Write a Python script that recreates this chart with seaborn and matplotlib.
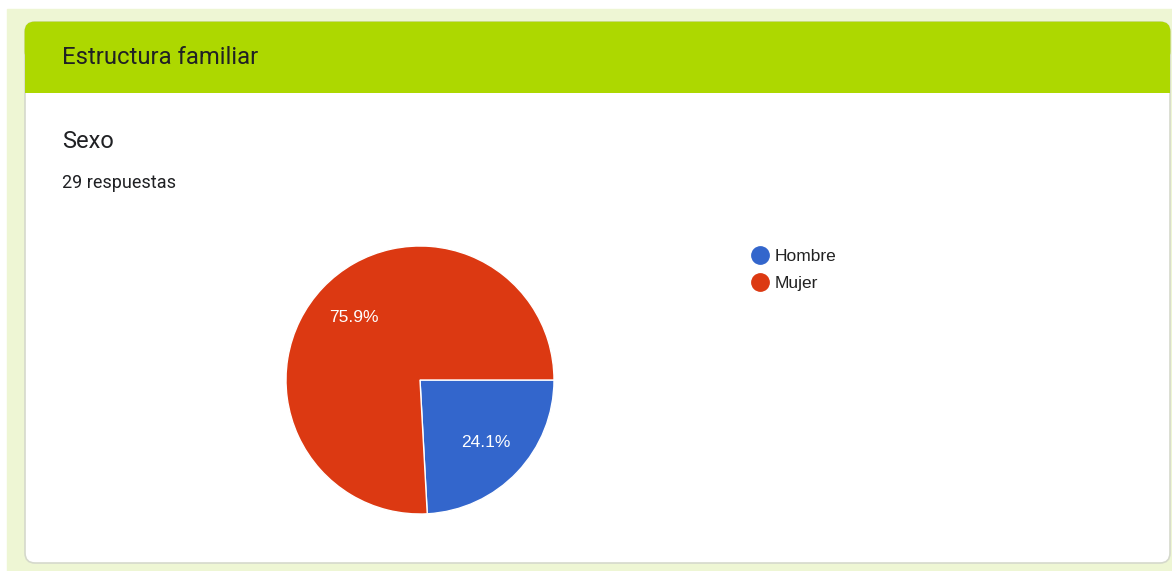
import matplotlib
matplotlib.use("Agg")
import matplotlib.pyplot as plt
from matplotlib.patches import FancyBboxPatch, Rectangle
from matplotlib.lines import Line2D
import seaborn as sns

# datos
categorias = ["Hombre", "Mujer"]
respuestas = [7, 22]
colores = ["#3366cc", "#dc3912"]
titulo_seccion = "Estructura familiar"
pregunta = "Sexo"
total_txt = "29 respuestas"

sns.set_theme(style="white")
plt.rcParams["font.family"] = ["Roboto", "DejaVu Sans"]
arial = ["Liberation Sans", "DejaVu Sans"]

W, H = 1172, 571
fig = plt.figure(figsize=(W / 100, H / 100), dpi=100)
fig.patch.set_facecolor("white")

# fondo en coordenadas de pixel
bg = fig.add_axes([0, 0, 1, 1])
bg.set_xlim(0, W)
bg.set_ylim(H, 0)
bg.axis("off")

bg.add_patch(Rectangle((7, 9), W - 7, H - 9, color="#eef6d4", zorder=0))
# tarjeta
bg.add_patch(FancyBboxPatch((25, 22), 1145, 541, boxstyle="round,pad=0,rounding_size=10",
                            facecolor="white", edgecolor="#d5d9cc", linewidth=1.2, zorder=1))
# cabecera verde (esquinas de arriba redondeadas)
verde = "#add800"
bg.add_patch(FancyBboxPatch((24.6, 21.6), 1145.8, 40, boxstyle="round,pad=0,rounding_size=10",
                            facecolor=verde, edgecolor="none", zorder=2))
bg.add_patch(Rectangle((24.6, 40), 1145.8, 53, facecolor=verde, edgecolor="none", zorder=2))

bg.text(62, 58, titulo_seccion, fontsize=17.2, color="#202124", va="center", ha="left", zorder=4)
bg.text(62, 141, pregunta, fontsize=17, color="#202124", va="center", ha="left", zorder=4)
bg.text(62, 183, total_txt, fontsize=13, color="#202124", va="center", ha="left", zorder=4)

# pastel
cx, cy, r = 420, 380, 134
ax = fig.add_axes([(cx - r) / W, (H - cy - r) / H, 2 * r / W, 2 * r / H])
wedges, _, autotexts = ax.pie(respuestas, colors=colores, startangle=0, counterclock=False,
                              autopct="%.1f%%", pctdistance=0.68,
                              wedgeprops=dict(edgecolor="white", linewidth=1),
                              textprops=dict(color="white", fontsize=12.5, family=arial))
ax.set_xlim(-1, 1)
ax.set_ylim(-1, 1)
ax.set_aspect("equal")

handles = [Line2D([], [], marker="o", linestyle="none", markersize=12.5,
                  markerfacecolor=c, markeredgecolor=c) for c in colores]
fig.legend(handles, categorias, loc="upper left", bbox_to_anchor=(742 / W, 1 - 240 / H),
           frameon=False, handletextpad=0.3, labelspacing=0.72,
           borderpad=0, handlelength=1.1, labelcolor="#222222",
           prop=dict(family=arial, size=12.5))

fig.savefig("out.png", dpi=100)
